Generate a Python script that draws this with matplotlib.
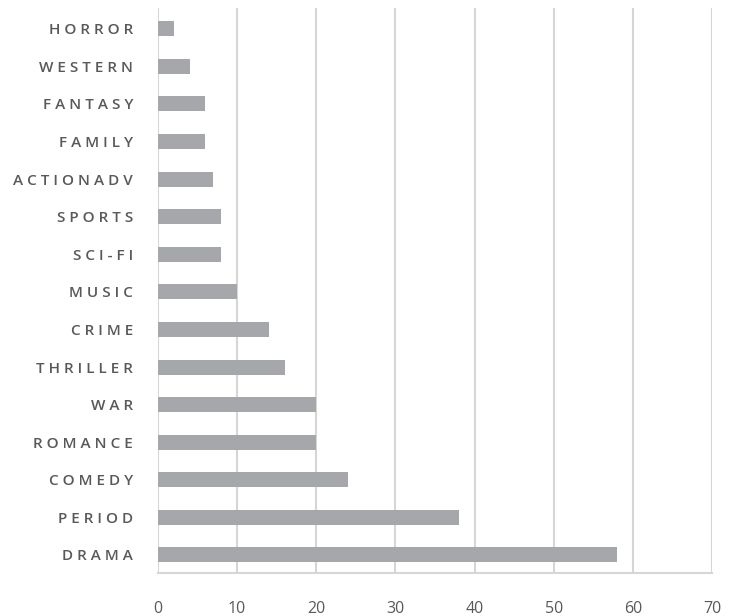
import matplotlib
matplotlib.use("Agg")
import matplotlib.pyplot as plt
import numpy as np

genres = ['DRAMA', 'PERIOD', 'COMEDY', 'ROMANCE', 'WAR', 'THRILLER', 'CRIME',
          'MUSIC', 'SCI-FI', 'SPORTS', 'ACTIONADV', 'FAMILY', 'FANTASY',
          'WESTERN', 'HORROR']
counts = [58, 38, 24, 20, 20, 16, 14, 10, 8, 8, 7, 6, 6, 4, 2]
xticks = [0, 10, 20, 30, 40, 50, 60, 70]

plt.rcParams['font.family'] = ['Open Sans', 'DejaVu Sans']

fig = plt.figure(figsize=(7.3, 6.16), dpi=100)
ax = fig.add_axes([0.2164, 0.0698, 0.7589, 0.917])

y = np.arange(len(genres))
ax.barh(y, counts, height=0.4, color='#a6a7aa', zorder=3)

ax.set_xlim(0, 70)
ax.set_ylim(-0.48, 14.55)
ax.set_xticks(xticks)
ax.set_xticklabels([str(t) for t in xticks], fontsize=11.5, color='#595959')
ax.set_yticks(y)
ax.set_yticklabels([' '.join(g) for g in genres], fontsize=11,
                   color='#595959', fontweight='semibold')

ax.grid(axis='x', color='#d6d6d6', linewidth=1.5, zorder=0)
ax.tick_params(axis='both', length=0)
ax.tick_params(axis='x', pad=20)
ax.tick_params(axis='y', pad=18)
for side in ['top', 'right', 'left']:
    ax.spines[side].set_visible(False)
ax.spines['bottom'].set_color('#d6d6d6')
ax.spines['bottom'].set_linewidth(1.5)

fig.savefig('out.png', dpi=100)
